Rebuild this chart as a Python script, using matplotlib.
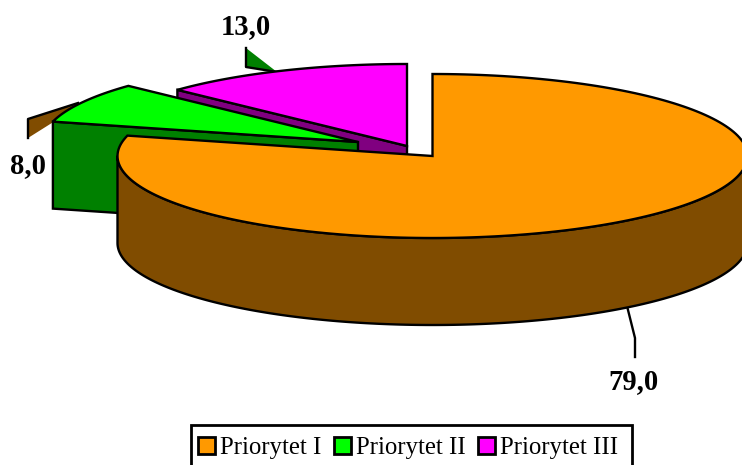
import numpy as np
import matplotlib
matplotlib.use('Agg')
import matplotlib.pyplot as plt
from matplotlib.patches import Patch, Polygon, Rectangle

# ── Data ─────────────────────────────────────────────────────────────────
categories = ['Priorytet I', 'Priorytet II', 'Priorytet III']
values = [79.0, 8.0, 13.0]

# ── Style / layout (pixel coordinates of the 742x465 picture) ─────────────
top_colors = ['#FF9900', '#00FF00', '#FF00FF']
side_colors = ['#804C00', '#008000', '#800080']
centers = [(432.5, 156), (358, 142), (407, 146)]
RX, RY, DEPTH = 315, 82, 87
LW = 1.7
label_pos = [(634, 382), (28, 166), (246, 27)]

plt.rcParams['font.family'] = ['Liberation Serif', 'DejaVu Serif']

fig = plt.figure(figsize=(7.42, 4.65), dpi=100)
ax = fig.add_axes([0, 0, 1, 1])
ax.set_xlim(0, 742)
ax.set_ylim(465, 0)
ax.axis('off')

# slice angles, clockwise from 12 o'clock
sweep = np.array(values) / sum(values) * 360
starts = 90 - np.concatenate([[0], np.cumsum(sweep)[:-1]])
ends = starts - sweep


def rim(center, a0, a1, drop=0, n=200):
    t = np.radians(np.linspace(a0, a1, n))
    return np.column_stack([center[0] + RX * np.cos(t),
                            center[1] + drop - RY * np.sin(t)])


def draw_slice(i, z):
    c = np.array(centers[i], float)
    a0, a1 = starts[i], ends[i]
    if i == 0:
        # big slice: outer wall facing the viewer
        wall = np.vstack([rim(c, 180, 360), rim(c, 360, 180, drop=DEPTH)])
        ax.add_patch(Polygon(wall, closed=True, fc=side_colors[i], ec='k', lw=LW,
                             joinstyle='round', zorder=z + 0.1))
    else:
        # flat cut face on the front side of the slice
        p = rim(c, a0, a0, n=1)[0]
        face = [p, c, c + [0, DEPTH], p + [0, DEPTH]]
        ax.add_patch(Polygon(face, closed=True, fc=side_colors[i], ec='k', lw=LW,
                             joinstyle='miter', zorder=z))
    # top surface
    top = np.vstack([[c], rim(c, a0, a1)])
    ax.add_patch(Polygon(top, closed=True, fc=top_colors[i], ec='k', lw=LW,
                         joinstyle='miter', zorder=z + 0.2))


# order: slices further back first
draw_slice(2, 3)
draw_slice(1, 4)
draw_slice(0, 5)

# leader stubs that stick out behind the slices
ax.add_patch(Polygon([(28, 138), (28, 119), (78, 103), (55, 121)], closed=True,
                     fc=side_colors[0], ec='none', zorder=1))
ax.plot([28, 28, 78], [138, 119, 103], color='k', lw=LW, zorder=1.1)
ax.add_patch(Polygon([(246, 48), (246, 67), (277, 72)], closed=True,
                     fc=side_colors[1], ec='none', zorder=1))
ax.plot([246, 246, 277], [48, 67, 72], color='k', lw=LW, zorder=1.1)
ax.plot([627, 635, 635], [306, 338, 357], color='k', lw=LW, zorder=1)

# value labels with decimal comma
for v, (x, y) in zip(values, label_pos):
    ax.text(x, y, f'{v:.1f}'.replace('.', ','), ha='center', va='center',
            fontsize=20.6, fontweight='bold', color='k', zorder=10)

# legend box runs off the bottom of the picture
ax.add_patch(Rectangle((191, 425), 441, 50, fc='w', ec='k', lw=2, zorder=19))
handles = [Patch(fc=col, ec='k', lw=2) for col in top_colors]
leg = ax.legend(handles, categories, loc='upper left', bbox_to_anchor=(198, 437),
                bbox_transform=ax.transData, ncol=3, fontsize=17.8, frameon=False,
                borderaxespad=0, borderpad=0,
                handlelength=0.69, handleheight=0.69, handletextpad=0.2,
                columnspacing=0.5)
leg.set_zorder(20)

fig.savefig('out.png', dpi=100)
